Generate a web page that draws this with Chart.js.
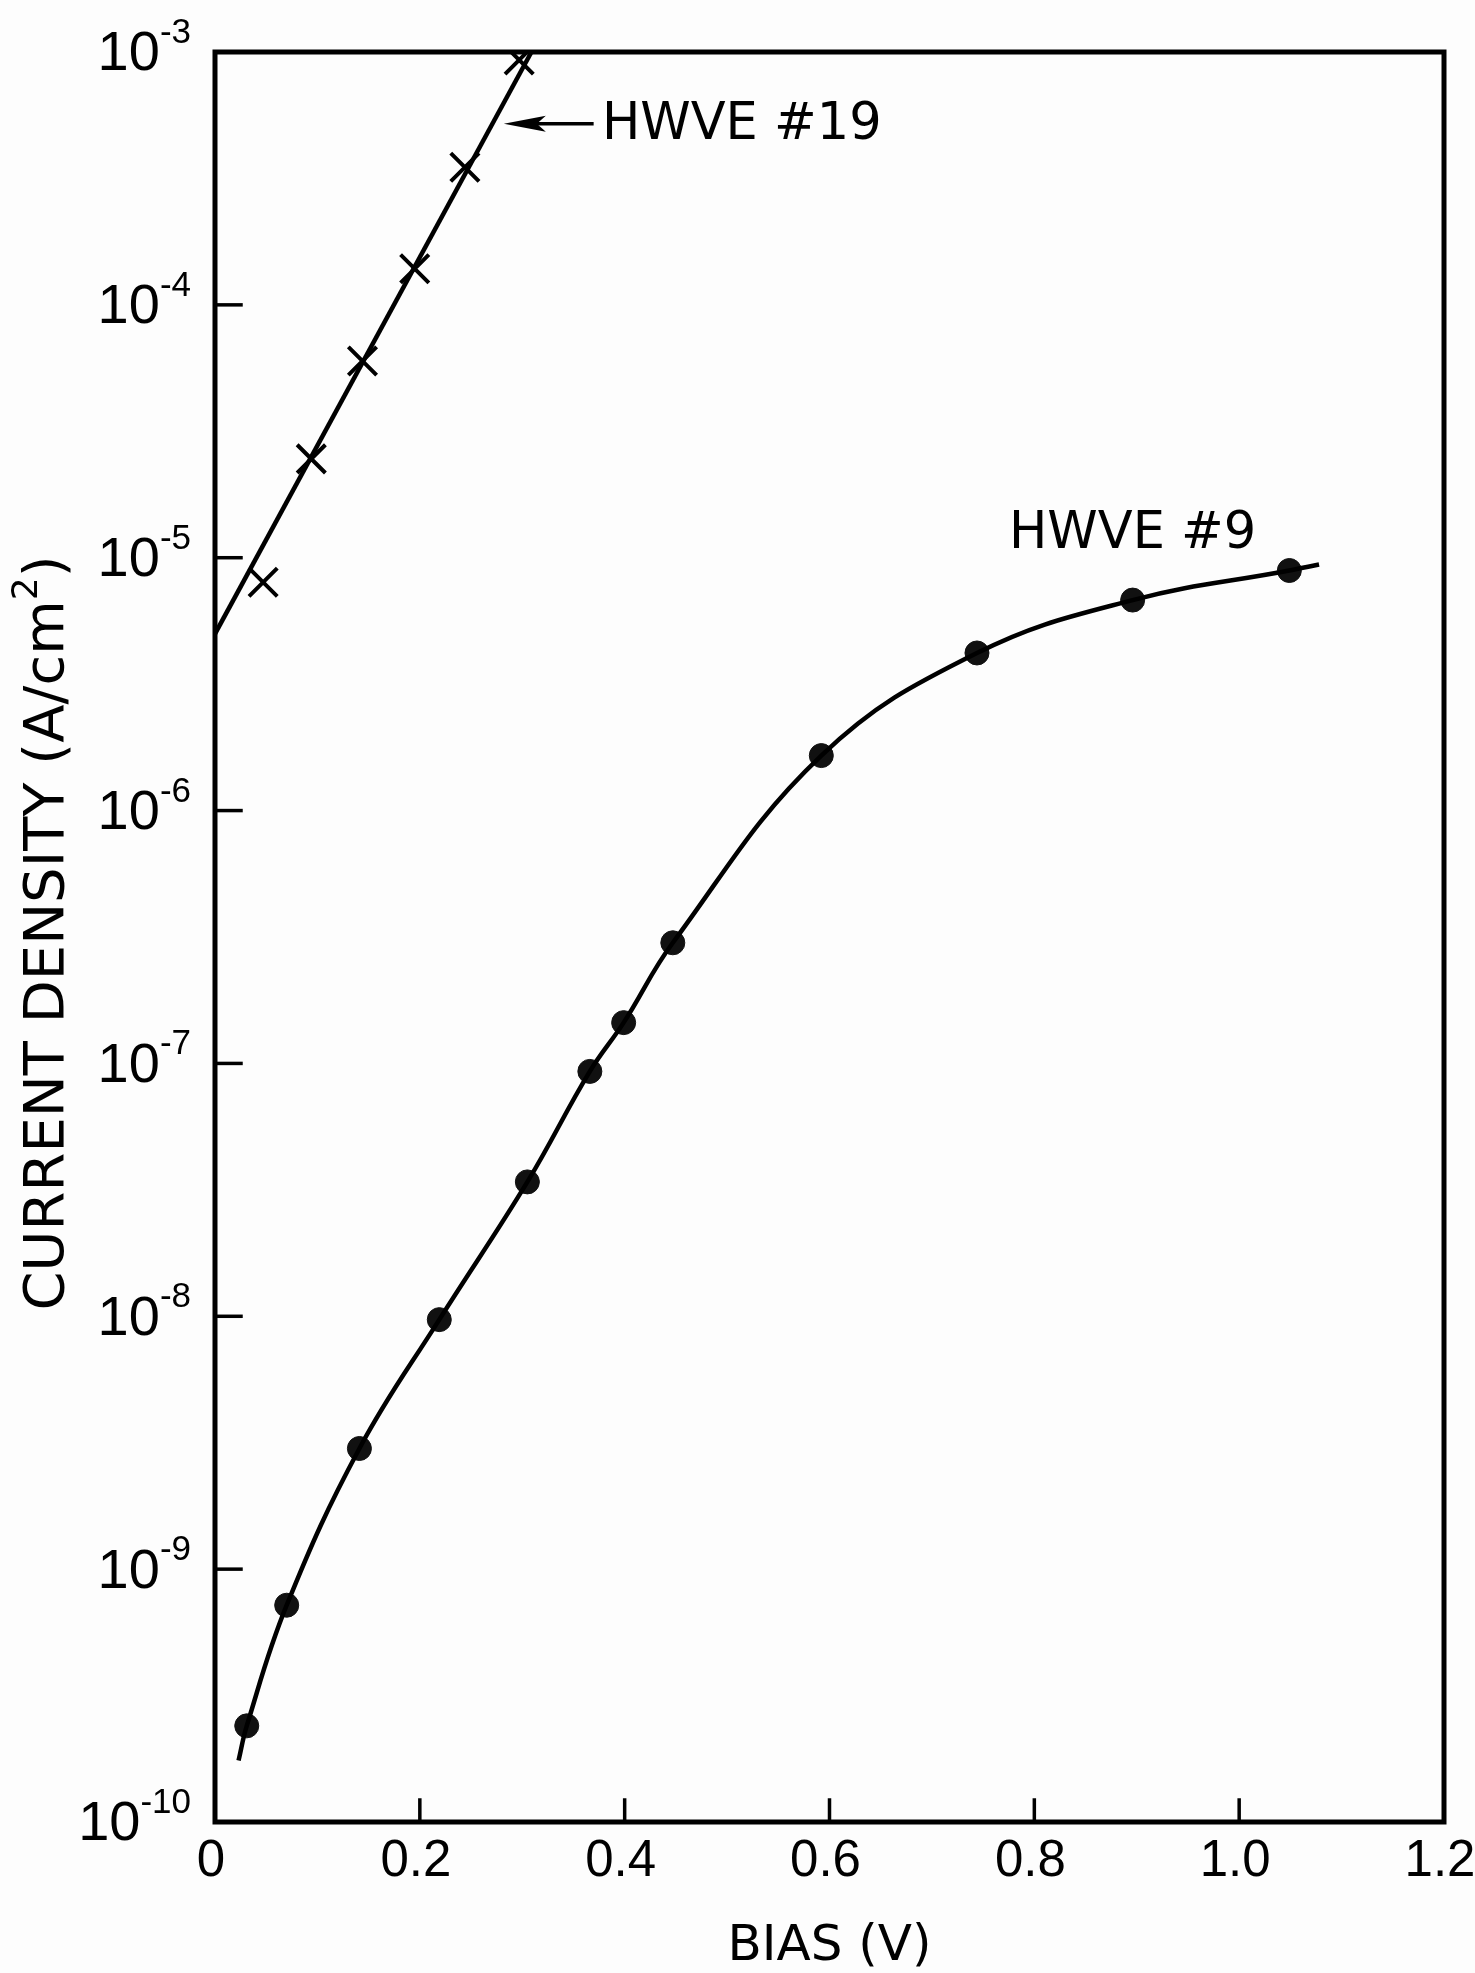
<!DOCTYPE html>
<html>
<head>
<meta charset="utf-8">
<script src="https://cdn.jsdelivr.net/npm/chart.js@4.4.1/dist/chart.umd.min.js"></script>
<style>
  html, body { margin: 0; padding: 0; background: #fdfdfd; }
  #wrap { width: 1475px; height: 1973px; }
</style>
</head>
<body>
<div id="wrap"><canvas id="ivChart" width="1475" height="1973"></canvas></div>
<script>
// HWVE #9 measured points
const bias9 = [0.031, 0.070, 0.141, 0.219, 0.305, 0.366, 0.399, 0.447, 0.592, 0.744, 0.896, 1.049];
const current9 = [2.4e-10, 7.2e-10, 3.0e-9, 9.7e-9, 3.4e-8, 9.3e-8, 1.45e-7, 3.0e-7, 1.65e-6, 4.2e-6, 6.8e-6, 8.9e-6];
// the drawn curve runs a little past the first and last point
const curve9Bias = [0.023, ...bias9, 1.078];
const curve9Current = [1.75e-10, ...current9, 9.4e-6];

// HWVE #19 measured points and its straight fit
const bias19 = [0.047, 0.094, 0.144, 0.195, 0.244, 0.297];
const current19 = [8.0e-6, 2.46e-5, 6.0e-5, 1.39e-4, 3.5e-4, 9.3e-4];
const line19Bias = [0, 0.309];
const line19Current = [5.0e-6, 1.0e-3];

const xTicks = [0, 0.2, 0.4, 0.6, 0.8, 1.0, 1.2];
const xTickLabels = ["0", "0.2", "0.4", "0.6", "0.8", "1.0", "1.2"];
const yExponents = [-3, -4, -5, -6, -7, -8, -9, -10];

const FONT = "'DejaVu Sans', sans-serif";
const NUMFONT = "'Liberation Sans', Arial, sans-serif";

function pts(xs, ys) {
  return xs.map((x, i) => ({ x: x, y: ys[i] }));
}

function seg(ctx, x1, y1, x2, y2) {
  ctx.beginPath();
  ctx.moveTo(x1, y1);
  ctx.lineTo(x2, y2);
  ctx.stroke();
}

const frame = {
  id: "frame",
  beforeDraw(chart) {
    const c = chart.ctx;
    c.save();
    c.fillStyle = "#fdfdfd";
    c.fillRect(0, 0, chart.width, chart.height);
    c.restore();
  },
  afterDraw(chart) {
    const c = chart.ctx;
    const a = chart.chartArea;
    const x = chart.scales.x;
    const y = chart.scales.y;
    c.save();
    c.strokeStyle = "#000";
    c.fillStyle = "#000";
    c.lineCap = "square";

    // box
    c.lineWidth = 5;
    c.strokeRect(a.left, a.top, a.right - a.left, a.bottom - a.top);

    // y ticks and labels 10^n
    c.lineWidth = 3.5;
    yExponents.forEach(e => {
      const py = y.getPixelForValue(Math.pow(10, e));
      if (e !== -3 && e !== -10) seg(c, a.left, py, a.left + 26, py);
      const expText = "-" + Math.abs(e);
      c.font = "35px " + NUMFONT;
      const ew = c.measureText(expText).width;
      c.font = "56px " + NUMFONT;
      const bw = c.measureText("10").width;
      const right = a.left - 24;
      c.textAlign = "left";
      c.textBaseline = "middle";
      c.fillText("10", right - ew - bw, py + 3);
      c.font = "35px " + NUMFONT;
      c.textBaseline = "alphabetic";
      c.fillText(expText, right - ew, py - 9);
    });

    // x ticks and labels
    c.font = "51px " + NUMFONT;
    c.textAlign = "center";
    c.textBaseline = "middle";
    xTicks.forEach((v, i) => {
      const px = x.getPixelForValue(v);
      if (i > 0 && i < xTicks.length - 1) seg(c, px, a.bottom, px, a.bottom - 22);
      c.fillText(xTickLabels[i], px - 4, 1862);
    });

    // axis titles
    c.font = "50px " + FONT;
    c.fillText("BIAS (V)", (a.left + a.right) / 2, 1947);

    c.save();
    c.translate(48, 933);
    c.rotate(-Math.PI / 2);
    const main = "CURRENT DENSITY (A/cm";
    c.font = "56px " + FONT;
    const mw = c.measureText(main).width;
    const pw = c.measureText(")").width;
    c.font = "36px " + FONT;
    const sw = c.measureText("2").width;
    let sx = -(mw + sw + pw) / 2;
    c.textAlign = "left";
    c.textBaseline = "middle";
    c.font = "56px " + FONT;
    c.fillText(main, sx, 0);
    c.font = "36px " + FONT;
    c.fillText("2", sx + mw, -20);
    c.font = "56px " + FONT;
    c.fillText(")", sx + mw + sw, 0);
    c.restore();

    // series labels
    c.font = "51px " + FONT;
    c.textAlign = "left";
    c.textBaseline = "middle";
    const ay = y.getPixelForValue(5.2e-4);
    const tipX = x.getPixelForValue(0.282);
    const tailX = x.getPixelForValue(0.368);
    c.lineWidth = 3.5;
    seg(c, tipX + 20, ay, tailX, ay);
    c.beginPath();
    c.moveTo(tipX, ay);
    c.lineTo(tipX + 42, ay - 8);
    c.lineTo(tipX + 33, ay);
    c.lineTo(tipX + 42, ay + 8);
    c.closePath();
    c.fill();
    c.fillText("HWVE #19", tailX + 10, ay + 2);

    c.textAlign = "center";
    c.fillText("HWVE #9", x.getPixelForValue(0.896), y.getPixelForValue(1.26e-5) + 2);
    c.restore();
  }
};

const ctx = document.getElementById("ivChart");
new Chart(ctx, {
  type: "line",
  data: {
    datasets: [
      {
        data: pts(curve9Bias, curve9Current),
        borderColor: "#000",
        borderWidth: 4.5,
        pointRadius: 0,
        tension: 0.4,
        fill: false
      },
      {
        data: pts(bias9, current9),
        showLine: false,
        pointStyle: "circle",
        pointRadius: 12,
        pointBackgroundColor: "#111",
        pointBorderColor: "#111",
        pointBorderWidth: 1
      },
      {
        data: pts(line19Bias, line19Current),
        borderColor: "#000",
        borderWidth: 4.5,
        pointRadius: 0,
        fill: false
      },
      {
        data: pts(bias19, current19),
        showLine: false,
        pointStyle: "crossRot",
        pointRadius: 20,
        pointBorderColor: "#000",
        pointBorderWidth: 4
      }
    ]
  },
  options: {
    responsive: false,
    animation: false,
    layout: { padding: { left: 215, top: 52, right: 31, bottom: 151 } },
    plugins: { legend: { display: false }, tooltip: { enabled: false } },
    scales: {
      x: { type: "linear", min: 0, max: 1.2, display: false },
      y: { type: "logarithmic", min: 1e-10, max: 1e-3, display: false }
    }
  },
  plugins: [frame]
});
</script>
</body>
</html>
